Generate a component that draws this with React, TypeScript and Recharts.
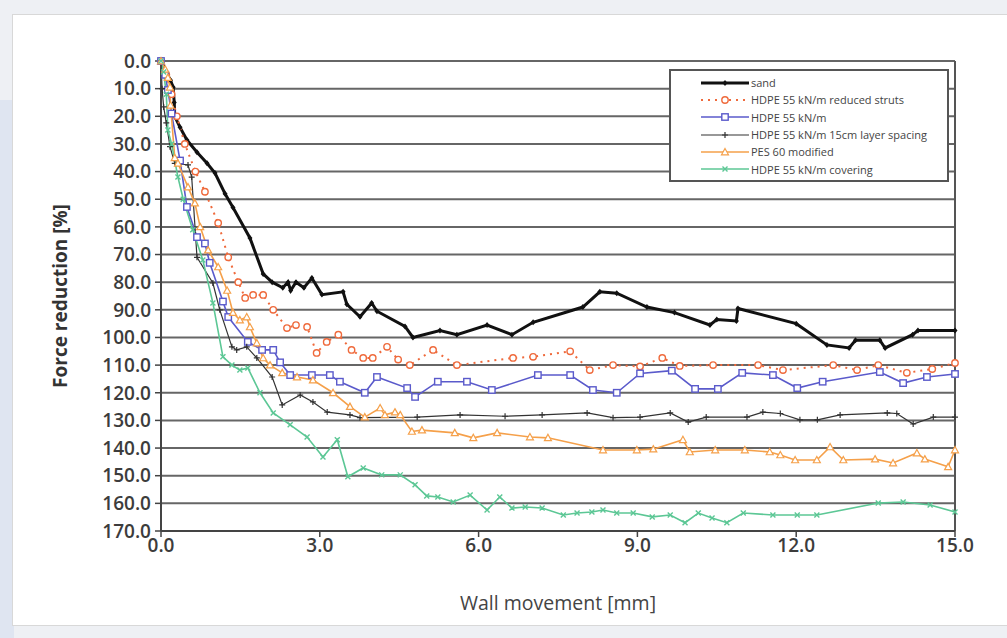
import React from 'react';
import { LineChart, Line, XAxis, YAxis, CartesianGrid, ReferenceLine, Legend } from 'recharts';

// wall movement [mm], force reduction [%]
const sandPoints = [
  [0, 0], [0.1, 4], [0.18, 7], [0.23, 9.5], [0.25, 15], [0.26, 20], [0.36, 24], [0.49, 28.6],
  [0.68, 33], [0.87, 37], [1.02, 40.5], [1.21, 48], [1.36, 53], [1.68, 64], [1.93, 77], [2.1, 80],
  [2.3, 82], [2.4, 80], [2.45, 83], [2.55, 80], [2.7, 82], [2.85, 78.5], [3.04, 84.5], [3.44, 83.5],
  [3.51, 88], [3.76, 92.5], [3.98, 87.5], [4.08, 90.5], [4.61, 96], [4.76, 100], [5.27, 97.5],
  [5.59, 99], [6.16, 95.5], [6.63, 99], [7.03, 94.5], [7.97, 89], [8.29, 83.5], [8.61, 84],
  [9.18, 89], [9.7, 91], [10.37, 95.5], [10.5, 93.5], [10.87, 94], [10.9, 89.5], [12.0, 95],
  [12.58, 102.7], [13.0, 103.8], [13.12, 101], [13.58, 101], [13.68, 103.8], [14.2, 99],
  [14.3, 97.5], [15.0, 97.5],
];

const reducedStrutsPoints = [
  [0, 0], [0.1, 5], [0.2, 12], [0.3, 20], [0.45, 30], [0.65, 40], [0.83, 47.3], [1.08, 58.6],
  [1.27, 71], [1.46, 80], [1.59, 85.7], [1.74, 84.6], [1.93, 84.6], [2.12, 90], [2.38, 96.6],
  [2.55, 95.5], [2.76, 96.2], [2.94, 105.6], [3.13, 101.6], [3.35, 99], [3.6, 104.5], [3.82, 107.4],
  [4.0, 107.4], [4.27, 103.4], [4.48, 108], [4.7, 110], [5.14, 104.5], [5.59, 110], [6.65, 107.4],
  [7.03, 107], [7.73, 105], [8.1, 111.8], [8.54, 110], [9.05, 110.5], [9.47, 107.4], [9.8, 110.3],
  [10.43, 110], [11.28, 110], [11.75, 111.8], [12.7, 110], [13.15, 111.8], [13.55, 110],
  [14.09, 112.8], [14.57, 111.4], [15, 109.2],
];

const hdpePoints = [
  [0, 0], [0.08, 5], [0.13, 10.5], [0.2, 19], [0.36, 36], [0.49, 52.8], [0.68, 63.7], [0.83, 66],
  [0.92, 73], [1.17, 87], [1.27, 92.6], [1.64, 101.6], [1.91, 104.5], [2.12, 104.5], [2.25, 109],
  [2.44, 113.6], [2.85, 113.6], [3.19, 113.6], [3.38, 116], [3.85, 120], [4.08, 114.3], [4.65, 118.3],
  [4.8, 121.5], [5.23, 116], [5.78, 116], [6.25, 119], [7.12, 113.6], [7.73, 113.6], [8.16, 119],
  [8.61, 120], [9.05, 113], [9.65, 112], [10.09, 118.6], [10.52, 118.6], [10.98, 112.8], [11.56, 113.6],
  [12.02, 118.3], [12.5, 116], [13.58, 112.5], [14.02, 116.5], [14.47, 114.3], [15, 113.2],
];

const layerSpacingPoints = [
  [0, 0], [0.02, 10], [0.05, 16.6], [0.1, 22.4], [0.17, 31], [0.26, 37], [0.51, 37.6], [0.58, 42],
  [0.68, 71], [0.98, 80.3], [1.11, 90], [1.34, 103.4], [1.43, 104.5], [1.62, 103.4], [1.81, 107.4],
  [2.1, 114.3], [2.29, 124.4], [2.63, 120.8], [2.87, 123.3], [3.14, 127], [3.57, 128], [3.76, 129],
  [4.84, 128.8], [5.65, 128], [6.5, 128.5], [7.2, 128], [8.05, 127.3], [8.54, 129], [9.05, 128.8],
  [9.62, 127.3], [9.96, 130.6], [10.3, 128.8], [11.07, 128.8], [11.37, 127], [11.7, 127.5],
  [12.07, 129.8], [12.4, 129.8], [12.83, 128], [13.72, 127.3], [13.9, 127.5], [14.21, 131.3],
  [14.59, 128.8], [15, 128.8],
];

const pesPoints = [
  [0, 0], [0.08, 3], [0.13, 6], [0.17, 9.5], [0.18, 16], [0.26, 35], [0.32, 37], [0.51, 45.6],
  [0.64, 51.4], [0.74, 60], [0.89, 68.4], [1.08, 74.5], [1.25, 83], [1.36, 91], [1.49, 93.7],
  [1.62, 92.6], [1.68, 96.2], [1.81, 102], [1.93, 107.4], [2.06, 110], [2.29, 112.8], [2.57, 114.3],
  [2.87, 115.4], [3.25, 120], [3.57, 125], [3.85, 128.8], [4.14, 125.5], [4.23, 128], [4.42, 127],
  [4.52, 128], [4.74, 134], [4.93, 133.5], [5.55, 134.5], [5.9, 136.3], [6.35, 134.5], [6.97, 136],
  [7.31, 136.3], [8.35, 140.7], [8.99, 140.7], [9.3, 140.4], [9.86, 137], [9.99, 141.4], [10.47, 140.7],
  [11.03, 140.7], [11.5, 141.4], [11.7, 142.5], [11.98, 144.3], [12.39, 144.3], [12.64, 139.6],
  [12.89, 144.3], [13.49, 144], [13.83, 145.4], [14.28, 141.8], [14.43, 144], [14.87, 146.8], [15, 140.7],
];

const coveringPoints = [
  [0, 0], [0.05, 4], [0.1, 12], [0.13, 25], [0.2, 30], [0.32, 42], [0.42, 50], [0.6, 61], [0.79, 72],
  [0.98, 87.5], [1.17, 107], [1.34, 110], [1.49, 111.8], [1.64, 111], [1.87, 120], [2.12, 127.3],
  [2.44, 131.6], [2.76, 136], [3.06, 143.2], [3.33, 137], [3.53, 150.4], [3.82, 147.2], [4.17, 149.7],
  [4.52, 149.7], [4.8, 153.3], [5.02, 157.3], [5.23, 157.7], [5.52, 159.5], [5.84, 157], [6.16, 162.4],
  [6.4, 157.7], [6.63, 161.7], [6.88, 161.3], [7.2, 161.7], [7.6, 164.2], [7.86, 163.5], [8.14, 163.1],
  [8.35, 162.4], [8.61, 163.5], [8.92, 163.5], [9.28, 164.9], [9.62, 164.2], [9.9, 167], [10.15, 163.5],
  [10.41, 165.3], [10.69, 167], [11.0, 163.5], [11.56, 164.2], [12.02, 164.2], [12.39, 164.2],
  [13.55, 159.9], [14.02, 159.5], [14.53, 160.6], [15, 163.1],
];

const xTicks = [0, 3, 6, 9, 12, 15];
const yTicks = [0, 10, 20, 30, 40, 50, 60, 70, 80, 90, 100, 110, 120, 130, 140, 150, 160, 170];

const toRows = (pts: number[][]) => pts.map(([x, y]) => ({ x, y }));

const series = [
  { name: 'sand', data: sandPoints, color: '#111111', width: 3, dash: undefined, shape: 'diamond' },
  { name: 'HDPE 55 kN/m reduced struts', data: reducedStrutsPoints, color: '#ef6a3c', width: 2, dash: '2 5', shape: 'circle' },
  { name: 'HDPE 55 kN/m', data: hdpePoints, color: '#5a5acb', width: 1.6, dash: undefined, shape: 'square' },
  { name: 'HDPE 55 kN/m 15cm layer spacing', data: layerSpacingPoints, color: '#333333', width: 1.2, dash: undefined, shape: 'plus' },
  { name: 'PES 60 modified', data: pesPoints, color: '#f5a04a', width: 1.6, dash: undefined, shape: 'triangle' },
  { name: 'HDPE 55 kN/m covering', data: coveringPoints, color: '#5cc795', width: 1.6, dash: undefined, shape: 'cross' },
];

const FONT = '"Open Sans", "DejaVu Sans", sans-serif';

function Marker({ cx, cy, shape, color }: { cx: number; cy: number; shape: string; color: string }) {
  if (cx == null || cy == null) return null;
  switch (shape) {
    case 'diamond':
      return <path d={`M${cx},${cy - 3}L${cx + 2.5},${cy}L${cx},${cy + 3}L${cx - 2.5},${cy}Z`} fill={color} />;
    case 'circle':
      return <circle cx={cx} cy={cy} r={3.2} fill="#fff" stroke={color} strokeWidth={1.4} />;
    case 'square':
      return <rect x={cx - 3.2} y={cy - 3.2} width={6.4} height={6.4} fill="#fff" stroke={color} strokeWidth={1.4} />;
    case 'plus':
      return <path d={`M${cx - 3},${cy}H${cx + 3}M${cx},${cy - 3}V${cy + 3}`} stroke={color} strokeWidth={1.2} />;
    case 'triangle':
      return <path d={`M${cx},${cy - 3.5}L${cx + 3.5},${cy + 2.8}L${cx - 3.5},${cy + 2.8}Z`} fill="#fff" stroke={color} strokeWidth={1.2} />;
    default:
      return <path d={`M${cx - 2.5},${cy - 2.5}L${cx + 2.5},${cy + 2.5}M${cx + 2.5},${cy - 2.5}L${cx - 2.5},${cy + 2.5}`} stroke={color} strokeWidth={1.4} />;
  }
}

function LegendBox() {
  return (
    <div style={{ border: '2px solid #555', background: '#fff', padding: '3px 0 2px 0', width: 280, boxSizing: 'border-box' }}>
      {series.map((s) => (
        <div key={s.name} style={{ display: 'flex', alignItems: 'center', height: 17.3 }}>
          <svg width={80} height={14} style={{ flex: 'none' }}>
            <line x1={30} y1={7} x2={78} y2={7} stroke={s.color} strokeWidth={s.width} strokeDasharray={s.dash} />
            <Marker cx={54} cy={7} shape={s.shape} color={s.color} />
          </svg>
          <span style={{ fontFamily: FONT, fontSize: 11, color: '#444', whiteSpace: 'nowrap' }}>{s.name}</span>
        </div>
      ))}
    </div>
  );
}

export default function App() {
  return (
    <div style={{ position: 'absolute', left: 0, top: 0, width: 1007, height: 638, background: '#eef0f4', overflow: 'hidden' }}>
      <div style={{ position: 'absolute', left: 0, top: 100, width: 14, height: 538, background: '#dfe5f1' }} />
      <div style={{ position: 'absolute', left: 12, top: 14, width: 1000, height: 610, background: '#fff', border: '1px solid #d8d8d8' }} />
      <div style={{ position: 'absolute', left: 0, top: 0 }}>
        <LineChart width={1007} height={638} margin={{ top: 61, right: 52, bottom: 37, left: 51 }}>
          <CartesianGrid horizontal vertical={false} stroke="#666" strokeWidth={2} />
          <XAxis
            type="number"
            dataKey="x"
            domain={[0, 15]}
            ticks={xTicks}
            allowDuplicatedCategory={false}
            tickFormatter={(v: number) => v.toFixed(1)}
            tick={{ fill: '#3c3c3c', fontSize: 19, fontFamily: FONT, fontWeight: 600 }}
            axisLine={{ stroke: '#444', strokeWidth: 2 }}
            tickLine={{ stroke: '#444', strokeWidth: 1.5 }}
            tickSize={6}
            tickMargin={2}
            height={70}
            label={{
              content: (p: any) => (
                <text x={p.viewBox.x + p.viewBox.width / 2} y={p.viewBox.y + 79} textAnchor="middle"
                  fontFamily={FONT} fontSize={19.5} fill="#444">Wall movement [mm]</text>
              ),
            }}
          />
          <YAxis
            type="number"
            dataKey="y"
            reversed
            domain={[0, 170]}
            ticks={yTicks}
            interval={0}
            tickFormatter={(v: number) => v.toFixed(1)}
            tick={{ fill: '#3c3c3c', fontSize: 19, fontFamily: FONT, fontWeight: 600 }}
            axisLine={{ stroke: '#444', strokeWidth: 2 }}
            tickLine={{ stroke: '#444', strokeWidth: 1.5 }}
            tickSize={6}
            tickMargin={4}
            width={110}
            label={{
              content: (p: any) => {
                const cx = p.viewBox.x + 9;
                const cy = p.viewBox.y + p.viewBox.height / 2;
                return (
                  <text x={cx} y={cy} transform={`rotate(-90 ${cx} ${cy})`} textAnchor="middle" dominantBaseline="central"
                    fontFamily={FONT} fontSize={19} fontWeight={700} fill="#333">Force reduction [%]</text>
                );
              },
            }}
          />
          <ReferenceLine x={15} stroke="#555" strokeWidth={2} />
          {series.map((s) => (
            <Line
              key={s.name}
              name={s.name}
              data={toRows(s.data)}
              dataKey="y"
              type="linear"
              stroke={s.color}
              strokeWidth={s.width}
              strokeDasharray={s.dash}
              dot={(p: any) => <Marker key={p.index} cx={p.cx} cy={p.cy} shape={s.shape} color={s.color} />}
              activeDot={false}
              isAnimationActive={false}
            />
          ))}
          <Legend
            layout="vertical"
            verticalAlign="middle"
            align="center"
            content={() => <LegendBox />}
            wrapperStyle={{ left: 669, top: 69, width: 280 }}
          />
        </LineChart>
      </div>
    </div>
  );
}
